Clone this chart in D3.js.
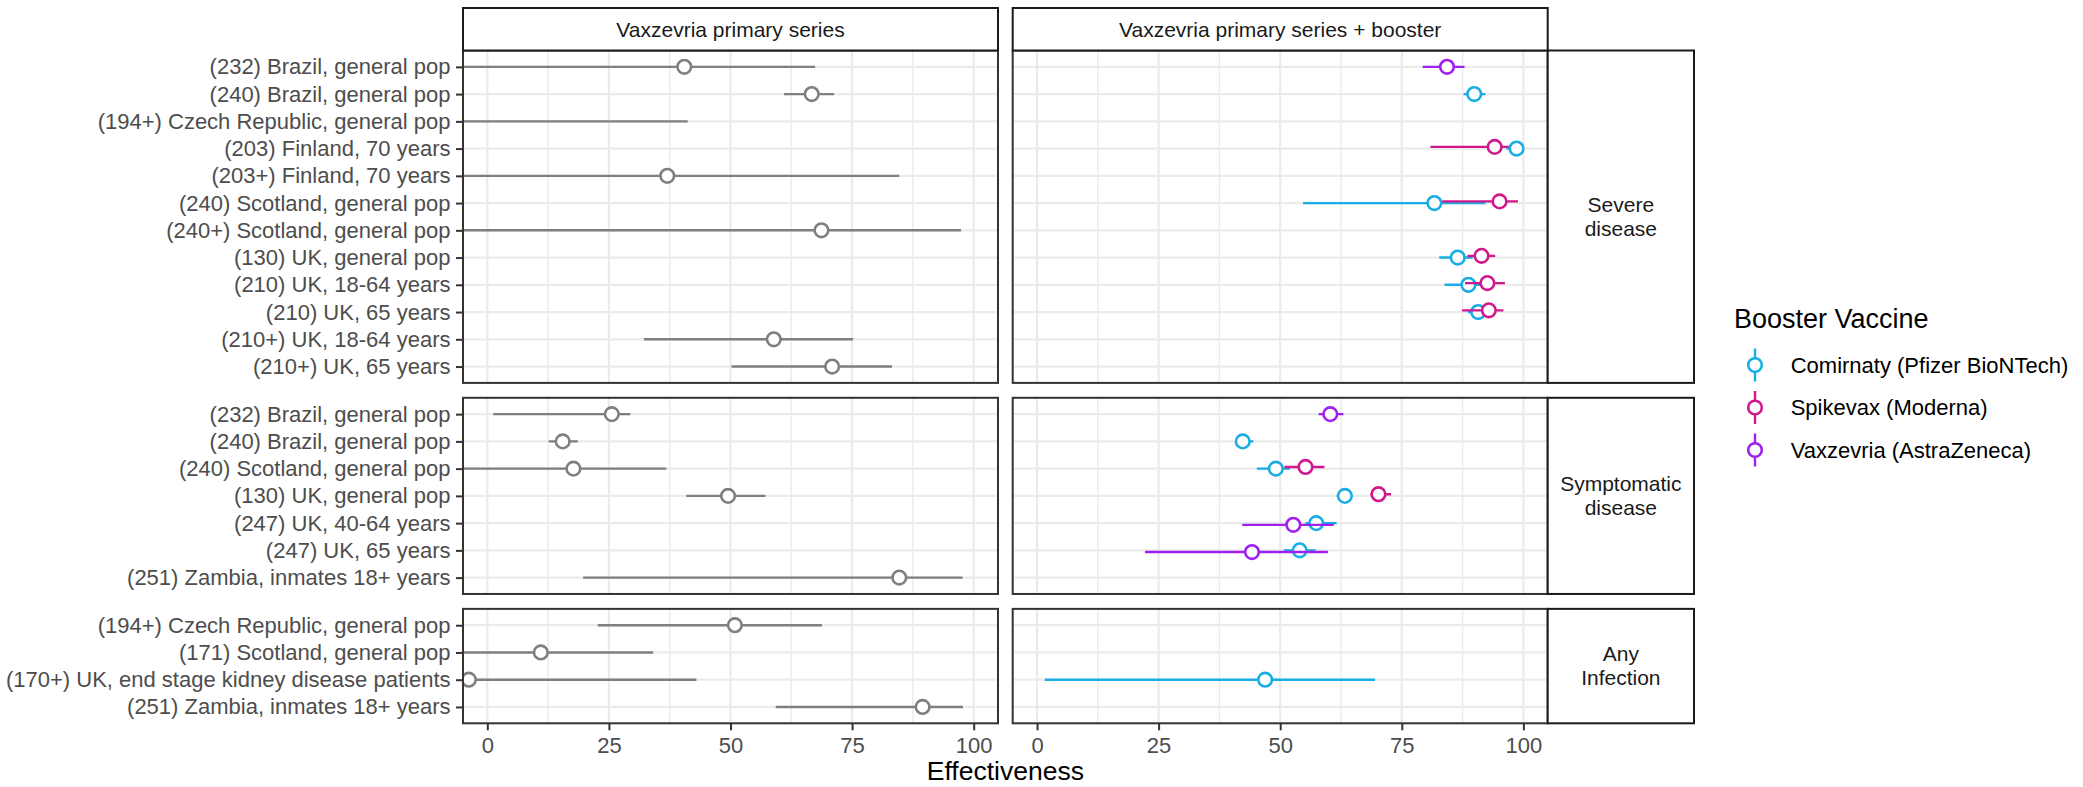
<!DOCTYPE html>
<html><head><meta charset="utf-8">
<script src="https://cdn.jsdelivr.net/npm/d3@7"></script>
<style>body{margin:0;background:#fff}svg{display:block;font-family:"Liberation Sans",Arial,sans-serif}</style>
</head><body><svg id="chart" width="2083" height="787"></svg>
<script>
// ---------- data ----------
const columns = ["Vaxzevria primary series", "Vaxzevria primary series + booster"];
const outcomes = ["Severe disease", "Symptomatic disease", "Any Infection"];
const outcomeStripLines = [["Severe", "disease"], ["Symptomatic", "disease"], ["Any", "Infection"]];
const severeStudies = ["(232) Brazil, general pop","(240) Brazil, general pop","(194+) Czech Republic, general pop","(203) Finland, 70 years","(203+) Finland, 70 years","(240) Scotland, general pop","(240+) Scotland, general pop","(130) UK, general pop","(210) UK, 18-64 years","(210) UK, 65 years","(210+) UK, 18-64 years","(210+) UK, 65 years"];
const symptomaticStudies = ["(232) Brazil, general pop","(240) Brazil, general pop","(240) Scotland, general pop","(130) UK, general pop","(247) UK, 40-64 years","(247) UK, 65 years","(251) Zambia, inmates 18+ years"];
const infectionStudies = ["(194+) Czech Republic, general pop","(171) Scotland, general pop","(170+) UK, end stage kidney disease patients","(251) Zambia, inmates 18+ years"];
const vaccines = ["Comirnaty (Pfizer BioNTech)", "Spikevax (Moderna)", "Vaxzevria (AstraZeneca)"];
const vaccineColors = ["#19ADE3", "#D2178C", "#A020F0"];
const dodgeOrder = ["Spikevax (Moderna)", "Comirnaty (Pfizer BioNTech)", "Vaxzevria (AstraZeneca)"];
const xTicks = [0, 25, 50, 75, 100];
const xMinor = [12.5, 37.5, 62.5, 87.5];
const xLimits = [0, 100];

// primary series estimates
const primaryOutcome = ["Severe disease","Severe disease","Severe disease","Severe disease","Severe disease","Severe disease","Severe disease",
  "Symptomatic disease","Symptomatic disease","Symptomatic disease","Symptomatic disease","Symptomatic disease",
  "Any Infection","Any Infection","Any Infection","Any Infection"];
const primaryStudy = ["(232) Brazil, general pop","(240) Brazil, general pop","(194+) Czech Republic, general pop","(203+) Finland, 70 years","(240+) Scotland, general pop","(210+) UK, 18-64 years","(210+) UK, 65 years",
  "(232) Brazil, general pop","(240) Brazil, general pop","(240) Scotland, general pop","(130) UK, general pop","(251) Zambia, inmates 18+ years",
  "(194+) Czech Republic, general pop","(171) Scotland, general pop","(170+) UK, end stage kidney disease patients","(251) Zambia, inmates 18+ years"];
const primaryVE   = [40.5, 66.7, -15, 37.0, 68.7, 58.9, 70.9, 25.6, 15.5, 17.7, 49.5, 84.7, 50.9, 11.0, -3.8, 89.5];
const primaryLow  = [-20, 61.0, -150, -60, -40, 32.2, 50.2, 1.2, 12.6, -10, 40.9, 19.7, 22.7, -15, -60, 59.3];
const primaryHigh = [67.4, 71.3, 41.2, 84.7, 97.4, 75.2, 83.2, 29.4, 18.6, 36.8, 57.2, 97.7, 68.8, 34.1, 43.0, 97.8];

// booster estimates
const boosterOutcome = ["Severe disease","Severe disease","Severe disease","Severe disease","Severe disease","Severe disease","Severe disease","Severe disease","Severe disease","Severe disease","Severe disease","Severe disease",
  "Symptomatic disease","Symptomatic disease","Symptomatic disease","Symptomatic disease","Symptomatic disease","Symptomatic disease","Symptomatic disease","Symptomatic disease","Symptomatic disease","Symptomatic disease",
  "Any Infection"];
const boosterStudy = ["(232) Brazil, general pop","(240) Brazil, general pop","(203) Finland, 70 years","(203) Finland, 70 years","(240) Scotland, general pop","(240) Scotland, general pop","(130) UK, general pop","(130) UK, general pop","(210) UK, 18-64 years","(210) UK, 18-64 years","(210) UK, 65 years","(210) UK, 65 years",
  "(232) Brazil, general pop","(240) Brazil, general pop","(240) Scotland, general pop","(240) Scotland, general pop","(130) UK, general pop","(130) UK, general pop","(247) UK, 40-64 years","(247) UK, 40-64 years","(247) UK, 65 years","(247) UK, 65 years",
  "(170+) UK, end stage kidney disease patients"];
const boosterVaccine = ["Vaxzevria (AstraZeneca)","Comirnaty (Pfizer BioNTech)","Spikevax (Moderna)","Comirnaty (Pfizer BioNTech)","Comirnaty (Pfizer BioNTech)","Spikevax (Moderna)","Comirnaty (Pfizer BioNTech)","Spikevax (Moderna)","Comirnaty (Pfizer BioNTech)","Spikevax (Moderna)","Comirnaty (Pfizer BioNTech)","Spikevax (Moderna)",
  "Vaxzevria (AstraZeneca)","Comirnaty (Pfizer BioNTech)","Comirnaty (Pfizer BioNTech)","Spikevax (Moderna)","Comirnaty (Pfizer BioNTech)","Spikevax (Moderna)","Comirnaty (Pfizer BioNTech)","Vaxzevria (AstraZeneca)","Comirnaty (Pfizer BioNTech)","Vaxzevria (AstraZeneca)",
  "Comirnaty (Pfizer BioNTech)"];
const boosterVE   = [84.3, 89.9, 94.1, 98.6, 81.7, 95.1, 86.5, 91.4, 88.7, 92.6, 90.7, 92.9, 60.3, 42.3, 49.1, 55.2, 63.3, 70.2, 57.4, 52.7, 54.0, 44.2, 46.9];
const boosterLow  = [79.3, 87.7, 80.9, 96.5, 54.7, 83.3, 82.7, 88.5, 83.8, 88.0, 88.6, 87.4, 57.9, 40.8, 45.2, 50.9, 61.6, 68.6, 55.2, 42.2, 50.8, 22.2, 1.6];
const boosterHigh = [87.9, 92.2, 97.5, 99.9, 92.2, 98.9, 89.6, 94.2, 92.0, 96.2, 92.5, 95.9, 63.0, 44.5, 52.0, 59.1, 64.8, 72.8, 61.6, 61.0, 57.3, 59.8, 69.5];

// ---------- layout ----------
const svg = d3.select("#chart");
const font = '"Liberation Sans", Arial, sans-serif';
const primaryGrey = "#7F7F7F";
const studiesByOutcome = [severeStudies, symptomaticStudies, infectionStudies];
const colRanges = [[463, 998], [1012.7, 1547.7]];
const stripTop = 8, panelTop = 50.5, panelBottom = 723.3, rowGap = 14.9;
const stripRight = [1547.7, 1694];
const units = studiesByOutcome.map(s => s.length - 1 + 1.2);
const unitPx = (panelBottom - panelTop - rowGap * 2) / d3.sum(units);
const rowRanges = [];
{ let y = panelTop; units.forEach(u => { rowRanges.push([y, y + u * unitPx]); y += u * unitPx + rowGap; }); }

const xScales = colRanges.map(r => d3.scaleLinear().domain([xLimits[0] - 5, xLimits[1] + 5]).range(r));
const yScales = rowRanges.map((r, i) => d3.scalePoint().domain(studiesByOutcome[i]).range(r).padding(0.6));
const colorScale = d3.scaleOrdinal().domain(vaccines).range(vaccineColors);
const dodge = d3.scalePoint().domain(dodgeOrder).range([-1.7, 1.7]);

const defs = svg.append("defs");

// panels
outcomes.forEach((oc, ri) => {
  columns.forEach((col, ci) => {
    const x = xScales[ci], y = yScales[ri];
    const [x0, x1] = colRanges[ci], [y0, y1] = rowRanges[ri];
    const id = `clip-${ri}-${ci}`;
    defs.append("clipPath").attr("id", id).append("rect").attr("x", x0).attr("y", y0).attr("width", x1 - x0).attr("height", y1 - y0);
    const g = svg.append("g");
    g.append("rect").attr("x", x0).attr("y", y0).attr("width", x1 - x0).attr("height", y1 - y0).attr("fill", "#fff");
    const grid = g.append("g").attr("clip-path", `url(#${id})`);
    grid.selectAll(".minor").data(xMinor).join("line")
      .attr("x1", d => x(d)).attr("x2", d => x(d)).attr("y1", y0).attr("y2", y1)
      .attr("stroke", "#EBEBEB").attr("stroke-width", 1.4);
    grid.selectAll(".major").data(xTicks).join("line")
      .attr("x1", d => x(d)).attr("x2", d => x(d)).attr("y1", y0).attr("y2", y1)
      .attr("stroke", "#EBEBEB").attr("stroke-width", 2.2);
    grid.selectAll(".hmajor").data(y.domain()).join("line")
      .attr("x1", x0).attr("x2", x1).attr("y1", d => y(d)).attr("y2", d => y(d))
      .attr("stroke", "#EBEBEB").attr("stroke-width", 2.2);

    const marks = g.append("g").attr("clip-path", `url(#${id})`);
    let pts;
    if (ci === 0) {
      pts = primaryVE.map((v, i) => ({o: primaryOutcome[i], s: primaryStudy[i], v, lo: primaryLow[i], hi: primaryHigh[i], color: primaryGrey, dy: 0}))
        .filter(d => d.o === oc);
    } else {
      const all = boosterVE.map((v, i) => ({o: boosterOutcome[i], s: boosterStudy[i], vac: boosterVaccine[i], v, lo: boosterLow[i], hi: boosterHigh[i]}))
        .filter(d => d.o === oc);
      pts = all.map(d => {
        const n = all.filter(e => e.s === d.s).length;
        return {...d, color: colorScale(d.vac), dy: n > 1 ? dodge(d.vac) : 0};
      });
    }
    const pg = marks.selectAll("g.pt").data(pts).join("g");
    pg.append("line")
      .attr("x1", d => x(d.lo)).attr("x2", d => x(d.hi))
      .attr("y1", d => y(d.s) + d.dy).attr("y2", d => y(d.s) + d.dy)
      .attr("stroke", d => d.color).attr("stroke-width", 2.4);
    pg.append("circle")
      .attr("cx", d => x(d.v)).attr("cy", d => y(d.s) + d.dy).attr("r", 6.8)
      .attr("fill", "#fff").attr("stroke", d => d.color).attr("stroke-width", 2.6);

    g.append("rect").attr("x", x0).attr("y", y0).attr("width", x1 - x0).attr("height", y1 - y0)
      .attr("fill", "none").attr("stroke", "#333333").attr("stroke-width", 2);

    // axes
    if (ci === 0) {
      const ax = svg.append("g").attr("transform", `translate(${x0},0)`)
        .call(d3.axisLeft(y).tickSize(7).tickPadding(5.5));
      ax.select(".domain").remove();
      ax.selectAll("line").attr("stroke", "#333333").attr("stroke-width", 2);
      ax.selectAll("text").attr("fill", "#4D4D4D").style("font-size", "22px").style("font-family", font);
    }
    if (ri === outcomes.length - 1) {
      const ax = svg.append("g").attr("transform", `translate(0,${y1})`)
        .call(d3.axisBottom(x).tickValues(xTicks).tickSize(7).tickPadding(7));
      ax.select(".domain").remove();
      ax.selectAll("line").attr("stroke", "#333333").attr("stroke-width", 2);
      ax.selectAll("text").attr("fill", "#4D4D4D").style("font-size", "22px").style("font-family", font);
    }
  });
  // row strip
  const [y0, y1] = rowRanges[ri];
  svg.append("rect").attr("x", stripRight[0]).attr("y", y0).attr("width", stripRight[1] - stripRight[0]).attr("height", y1 - y0)
    .attr("fill", "#fff").attr("stroke", "#1A1A1A").attr("stroke-width", 2);
  const cy = (y0 + y1) / 2;
  svg.append("text").attr("x", (stripRight[0] + stripRight[1]) / 2).attr("y", cy - 12)
    .attr("text-anchor", "middle").attr("fill", "#1A1A1A").style("font-size", "21px").style("font-family", font)
    .selectAll("tspan").data(outcomeStripLines[ri]).join("tspan")
    .attr("x", (stripRight[0] + stripRight[1]) / 2).attr("dy", (d, i) => i === 0 ? "0.35em" : "24px").text(d => d);
});

// column strips
columns.forEach((col, ci) => {
  const [x0, x1] = colRanges[ci];
  svg.append("rect").attr("x", x0).attr("y", stripTop).attr("width", x1 - x0).attr("height", panelTop - stripTop)
    .attr("fill", "#fff").attr("stroke", "#1A1A1A").attr("stroke-width", 2);
  svg.append("text").attr("x", (x0 + x1) / 2).attr("y", (stripTop + panelTop) / 2 + 0.5).attr("dy", "0.35em")
    .attr("text-anchor", "middle").attr("fill", "#1A1A1A").style("font-size", "21px").style("font-family", font).text(col);
});

// x-axis title
svg.append("text").attr("x", (colRanges[0][0] + colRanges[1][1]) / 2).attr("y", 780)
  .attr("text-anchor", "middle").attr("fill", "#000").style("font-size", "26.5px").style("font-family", font).text("Effectiveness");

// legend
const lg = svg.append("g");
lg.append("text").attr("x", 1734).attr("y", 328).attr("fill", "#000").style("font-size", "27px").style("font-family", font).text("Booster Vaccine");
const keyY = d3.scalePoint().domain(vaccines).range([365, 450]);
const items = lg.selectAll("g.item").data(vaccines).join("g");
items.append("line").attr("x1", 1755).attr("x2", 1755).attr("y1", d => keyY(d) - 16.5).attr("y2", d => keyY(d) + 16.5)
  .attr("stroke", d => colorScale(d)).attr("stroke-width", 2.4);
items.append("circle").attr("cx", 1755).attr("cy", d => keyY(d)).attr("r", 6.8)
  .attr("fill", "#fff").attr("stroke", d => colorScale(d)).attr("stroke-width", 2.6);
items.append("text").attr("x", 1790.7).attr("y", d => keyY(d)).attr("dy", "0.35em").attr("fill", "#000")
  .style("font-size", "22px").style("font-family", font).text(d => d);
</script></body></html>
